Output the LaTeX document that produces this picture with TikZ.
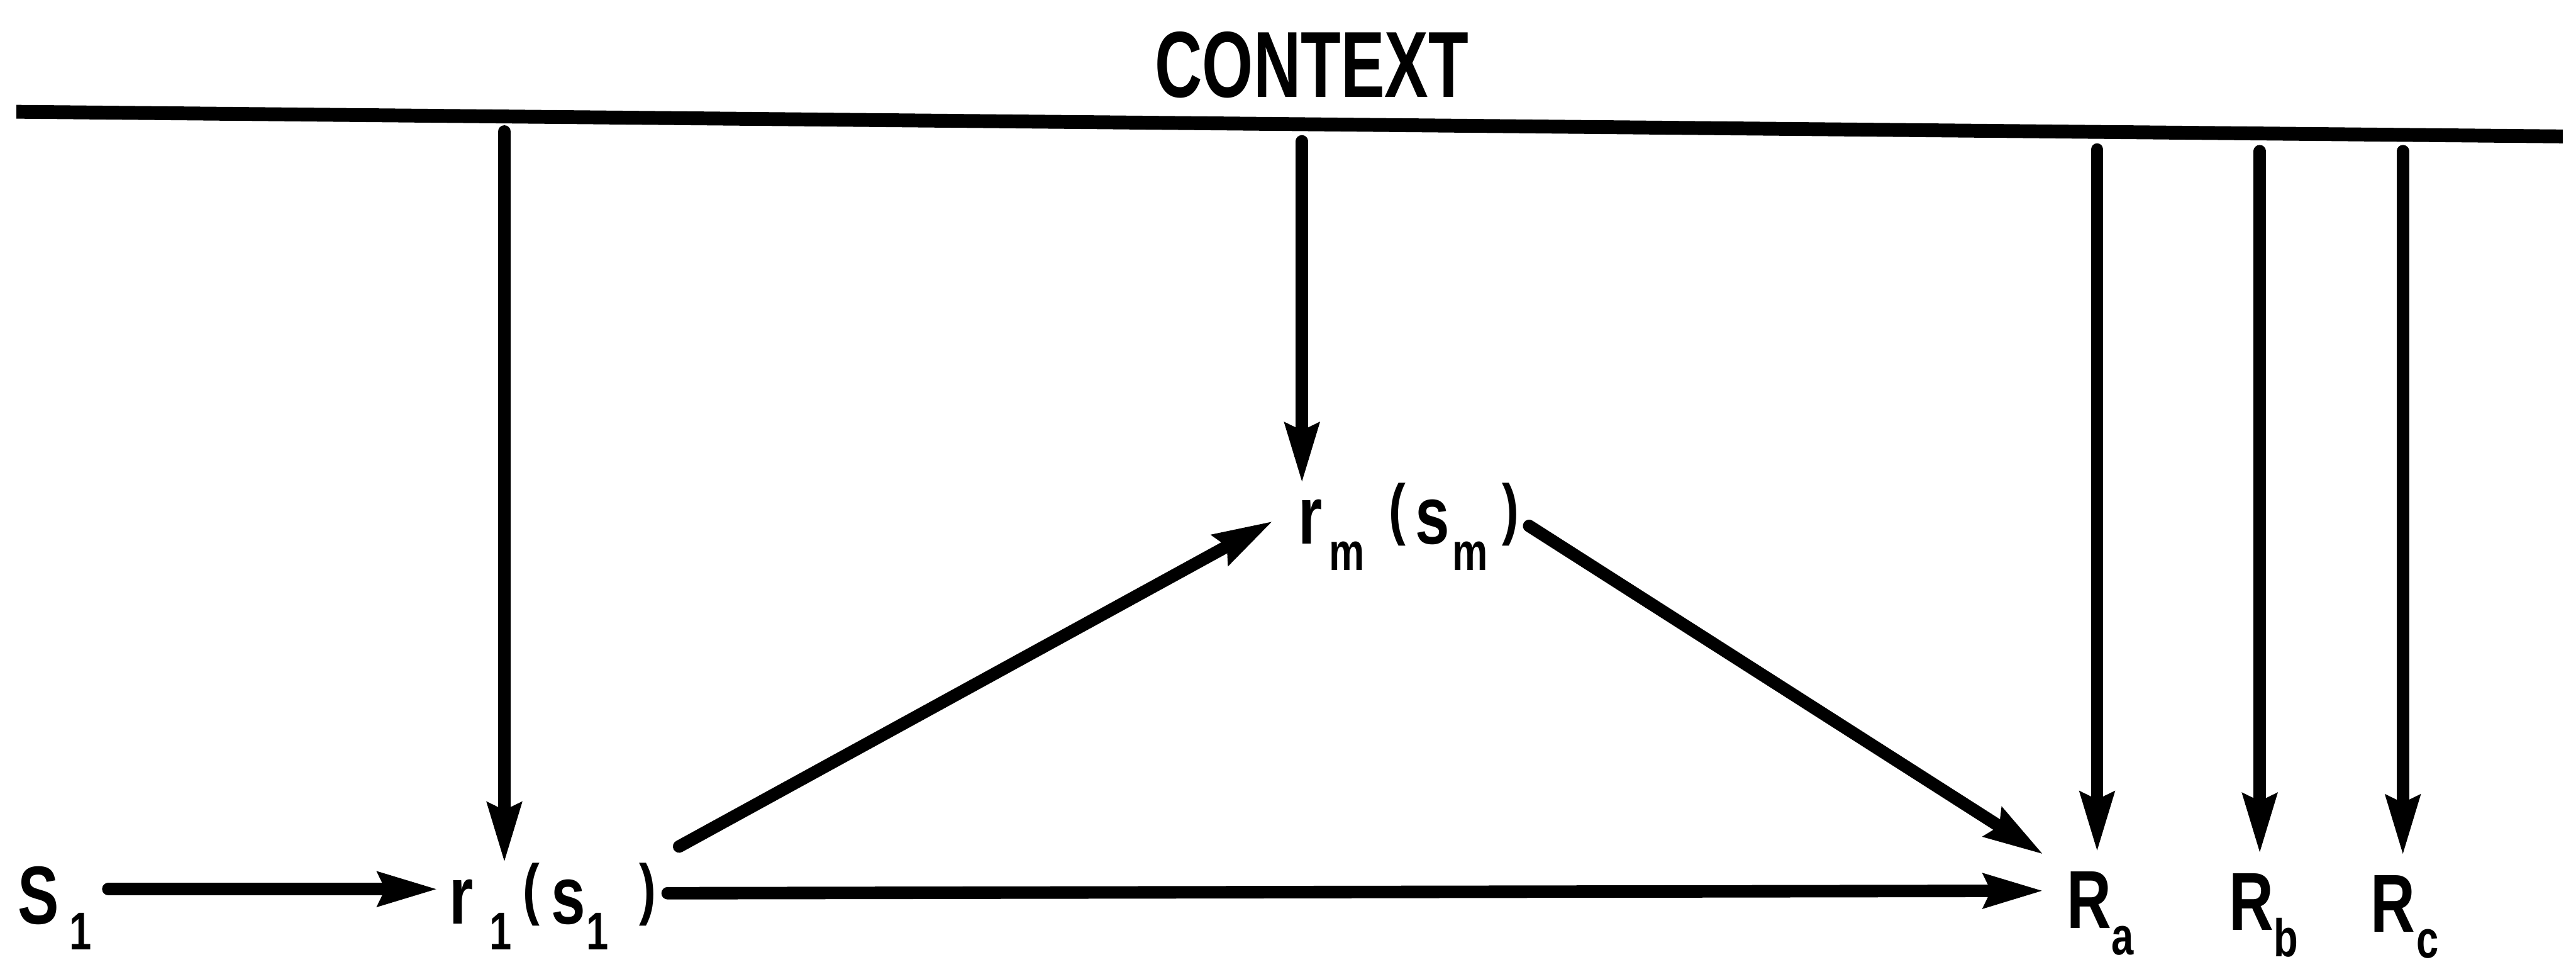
\documentclass[tikz,border=0pt]{standalone}
\usepackage{fontspec}
\usepackage{tikz}
\usetikzlibrary{arrows.meta}
\newfontfamily\labelfont[FakeStretch=0.75]{Liberation Sans Bold}
\newfontfamily\titlefont[FakeStretch=0.7]{Liberation Sans Bold}
\newcommand{\lsub}[1]{\raisebox{-0.4cm}{\fontsize{23}{24}\selectfont #1}}
\newcommand{\lpar}[1]{\raisebox{0.18cm}{\fontsize{29.2}{30}\selectfont #1}}

\begin{document}
\begin{tikzpicture}[
  x=0.025cm, y=-0.025cm,
  lbl/.style={inner sep=0pt, outer sep=0pt, anchor=base west,
              font=\labelfont\fontsize{35.6}{36}\selectfont},
  ttl/.style={inner sep=0pt, outer sep=0pt, anchor=base,
              font=\titlefont\fontsize{40.6}{41}\selectfont},
  bar/.style={line width=0.21cm, draw=black},
  arr/.style={-{Stealth[length=0.9cm, width=0.5cm, inset=0.1cm]},
              line width=0.19cm, line cap=round, draw=black},
  rarr/.style={arr, shorten >=0.3cm}
]
\useasboundingbox (0,0) rectangle (1568,588);
%% -- Context bar and title ------------------------------------------------
\node[ttl] (ctx) at (798.5,59) {CONTEXT};
\coordinate (barL) at (10,68);
\coordinate (barR) at (1560,83);
\draw[bar] (barL) -- (barR);
%% -- Starting points of the context arrows -------------------------------
\coordinate (top1) at (307,80);
\coordinate (topm) at (792.5,86);
\coordinate (topa) at (1276.5,91);
\coordinate (topb) at (1375.5,92);
\coordinate (topc) at (1462.6,92);
%% -- Stimulus and responses ----------------------------------------------
\node[lbl] (S1) at (11,562) {S\hspace{0.16cm}\lsub{1}};
\node[lbl] (r1) at (273.4,562)
  {r\hspace{0.25cm}\lsub{1}\hspace{0.17cm}\lpar{(}\hspace{0.175cm}s\hspace{0.01cm}\lsub{1}\hspace{0.47cm}\lpar{)}};
\node[lbl] (rm) at (790.4,331)
  {r\hspace{0.1cm}\lsub{m}\hspace{0.37cm}\lpar{(}\hspace{0.15cm}s\hspace{0.04cm}\lsub{m}\hspace{0.22cm}\lpar{)}};
\node[lbl] (Ra) at (1258,565) {R\lsub{a}};
\node[lbl] (Rb) at (1357,566) {R\lsub{b}};
\node[lbl] (Rc) at (1443,567) {R\hspace{0.025cm}\lsub{c}};
%% -- Arrows from the context ---------------------------------------------
\draw[arr] (top1) -- (top1 |- r1.north);
\draw[arr] (topm) -- (topm |- rm.north);
\draw[rarr] (topa) -- (topa |- Ra.north);
\draw[rarr] (topb) -- (topb |- Rb.north);
\draw[rarr] (topc) -- (topc |- Rc.north);
%% -- Chain S1 -> r1 -> Ra, and r1 -> rm -> Ra ----------------------------
\draw[arr] ([xshift=0.25cm,yshift=0.525cm]S1.base east)
  -- ([xshift=-0.17cm,yshift=0.525cm]r1.base west);
\draw[arr] ([xshift=0.175cm,yshift=0.4625cm]r1.base east)
  -- ([xshift=-0.35cm,yshift=0.575cm]Ra.base west);
\draw[arr] ([xshift=0.35cm,yshift=0.25cm]r1.north east)
  -- ([xshift=-0.385cm,yshift=0.35cm]rm.base west);
\draw[arr] ([xshift=0.15cm,yshift=0.275cm]rm.base east)
  -- ([xshift=-0.35cm,yshift=1.125cm]Ra.base west);
\end{tikzpicture}
\end{document}
